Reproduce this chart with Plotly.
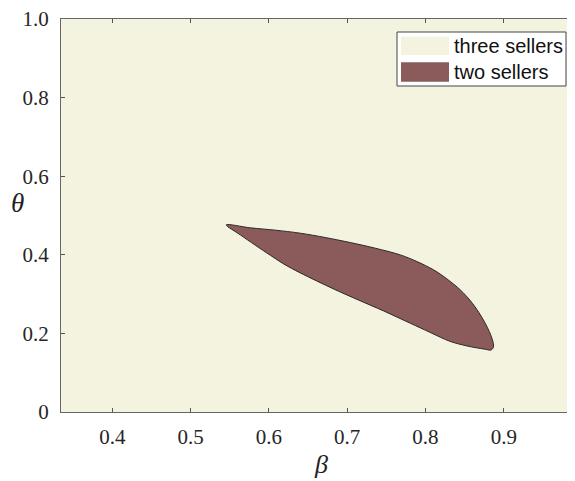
import plotly.graph_objects as go

# ---- data ----
beta_range = [0.3345, 0.991]
theta_range = [0.0, 1.0]
x_ticks = [0.4, 0.5, 0.6, 0.7, 0.8, 0.9]
x_tick_labels = ["0.4", "0.5", "0.6", "0.7", "0.8", "0.9"]
y_ticks = [0.0, 0.2, 0.4, 0.6, 0.8, 1.0]
y_tick_labels = ["0", "0.2", "0.4", "0.6", "0.8", "1.0"]

# boundary of the "two sellers" region: upper edge (left tip -> right end)
two_beta_upper = [0.5456, 0.5763, 0.6082, 0.6401, 0.6720, 0.7040, 0.7359, 0.7678, 0.7891,
                  0.8104, 0.8274, 0.8445, 0.8572, 0.8680, 0.8760, 0.8815, 0.8849, 0.8870,
                  0.8862, 0.8835]
two_theta_upper = [0.4762, 0.4686, 0.4627, 0.4550, 0.4440, 0.4312, 0.4168, 0.3998, 0.3829,
                   0.3617, 0.3387, 0.3107, 0.2836, 0.2540, 0.2270, 0.2050, 0.1876, 0.1706,
                   0.1621, 0.1575]
# lower edge (right end -> back to left tip)
two_beta_lower = [0.8760, 0.8700, 0.8530, 0.8317, 0.8061, 0.7806, 0.7465, 0.7142, 0.6826,
                  0.6401, 0.6188, 0.6018, 0.5826, 0.5635, 0.5456]
two_theta_lower = [0.1598, 0.1617, 0.1681, 0.1795, 0.2024, 0.2259, 0.2572, 0.2852, 0.3132,
                   0.3540, 0.3769, 0.3990, 0.4245, 0.4507, 0.4762]

# "three sellers" region = whole parameter space
three_beta = [1/3, 1.0, 1.0, 1/3, 1/3]
three_theta = [0.0, 0.0, 1.0, 1.0, 0.0]

series_names = ["three sellers", "two sellers"]
c_three = "#F4F3DF"
c_two = "#8B5A5A"

# ---- layout geometry in pixels (page has an 8px body offset) ----
OFF = 8
W, H = 575 - OFF, 481 - OFF
L, R, T, B = 61 - OFF, 575 - OFF, 19 - OFF, 412 - OFF


def px_x(p):
    return (p - OFF - L) / (R - L)


def px_y(p):
    return (B - (p - OFF)) / (B - T)


fig = go.Figure()
fig.add_trace(go.Scatter(x=three_beta, y=three_theta, fill="toself", fillcolor=c_three,
                         mode="lines", line=dict(width=0, color=c_three),
                         name=series_names[0], showlegend=False, hoverinfo="skip"))
fig.add_trace(go.Scatter(x=two_beta_upper + two_beta_lower, y=two_theta_upper + two_theta_lower,
                         fill="toself", fillcolor=c_two, mode="lines",
                         line=dict(width=1, color="#2a2a2a", shape="spline", smoothing=0.9),
                         name=series_names[1], showlegend=False))

axis_font = dict(family="Liberation Serif, Times New Roman, serif", size=21, color="#262626")
fig.update_xaxes(range=beta_range, tickvals=x_ticks, ticktext=x_tick_labels,
                 ticks="inside", ticklen=4, tickcolor="#555", tickwidth=1,
                 showline=True, linecolor="#666", linewidth=1, mirror="ticks",
                 showgrid=False, zeroline=False, tickfont=axis_font, ticklabelstandoff=6,
                 ticklabeloverflow="allow")
fig.update_yaxes(range=theta_range, tickvals=y_ticks, ticktext=y_tick_labels,
                 ticks="inside", ticklen=4, tickcolor="#555", tickwidth=1,
                 showline=True, linecolor="#666", linewidth=1, mirror=False,
                 showgrid=False, zeroline=False, tickfont=axis_font, ticklabelstandoff=7,
                 ticklabeloverflow="allow")

shapes = []
annotations = []
# legend box
shapes.append(dict(type="rect", xref="paper", yref="paper", x0=px_x(397), x1=px_x(566),
                   y0=px_y(86), y1=px_y(32), fillcolor="white", line=dict(color="#444", width=1)))
legend_rows = [(36.7, 55, c_three, 46), (62.3, 81.7, c_two, 72)]
for (y0, y1, col, yc), name in zip(legend_rows, series_names):
    shapes.append(dict(type="rect", xref="paper", yref="paper", x0=px_x(401), x1=px_x(449),
                       y0=px_y(y1), y1=px_y(y0), fillcolor=col, line=dict(width=0)))
    annotations.append(dict(text=name, xref="paper", yref="paper", x=px_x(452), y=px_y(yc),
                            xanchor="left", yanchor="middle", showarrow=False,
                            font=dict(family="Liberation Sans, Arial, sans-serif", size=20,
                                      color="#111")))
# axis titles
annotations.append(dict(text="<i>β</i>", xref="paper", yref="paper", x=px_x(321), y=px_y(464),
                        xanchor="center", yanchor="middle", showarrow=False,
                        font=dict(family="Liberation Serif, serif", size=26, color="#222")))
annotations.append(dict(text="<i>θ</i>", xref="paper", yref="paper", x=px_x(17), y=px_y(203),
                        xanchor="center", yanchor="middle", showarrow=False,
                        font=dict(family="Liberation Serif, serif", size=27, color="#222")))

fig.update_layout(width=W, height=H, margin=dict(l=L, r=W - R, t=T, b=H - B),
                  paper_bgcolor="white", plot_bgcolor=c_three, showlegend=False,
                  shapes=shapes, annotations=annotations)

fig.write_html("out.html")
